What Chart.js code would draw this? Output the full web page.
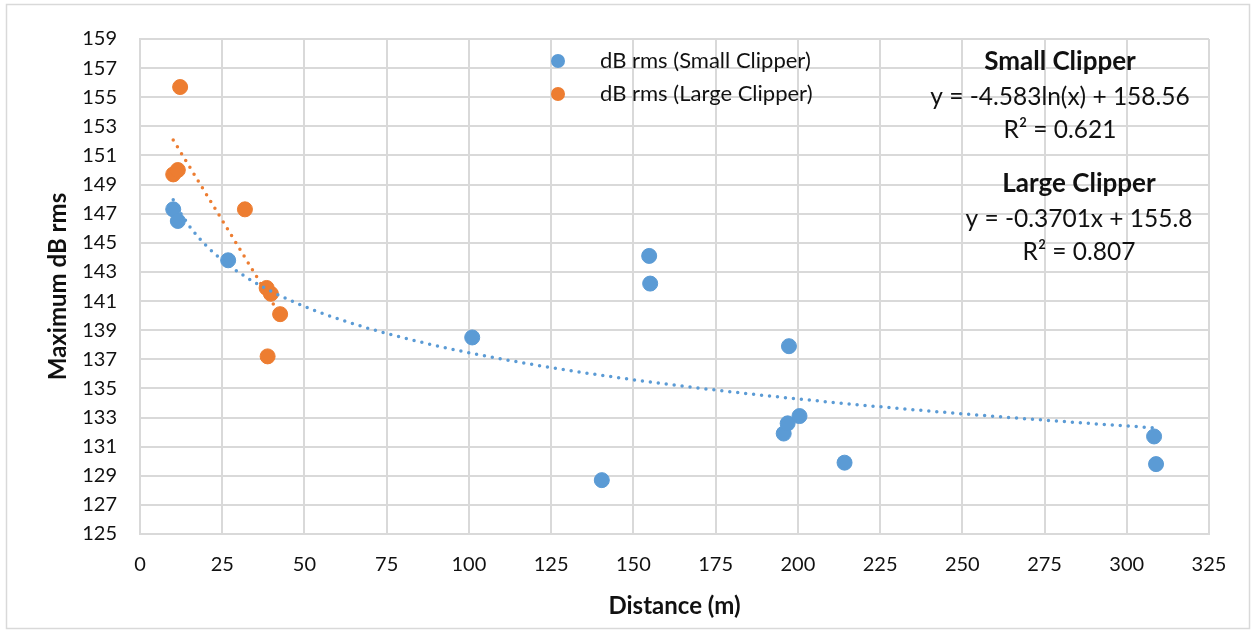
<!DOCTYPE html>
<html>
<head>
<meta charset="utf-8">
<script src="https://cdn.jsdelivr.net/npm/chart.js@4.4.1/dist/chart.umd.min.js"></script>
<style>
  html, body { margin: 0; padding: 0; background: #fff; }
  #wrap { position: relative; width: 1252px; height: 630px; }
</style>
</head>
<body>
<div id="wrap"><canvas id="chart" width="1252" height="630"></canvas></div>
<script>
// Measured distance (m) and peak level (dB rms) for each clipper
const smallX = [10.1, 11.5, 26.8, 101.0, 140.4, 154.8, 155.1, 195.7, 196.9, 197.3, 200.5, 214.2, 308.3, 308.9];
const smallY = [147.3, 146.5, 143.8, 138.5, 128.7, 144.1, 142.2, 131.9, 132.6, 137.9, 133.1, 129.9, 131.7, 129.8];
const largeX = [10.1, 11.5, 12.2, 31.9, 38.5, 38.8, 39.8, 42.6];
const largeY = [149.7, 150.0, 155.7, 147.3, 141.9, 137.2, 141.5, 140.1];

// Fitted trend coefficients (as printed on the chart)
const smallFit = { a: -4.583, b: 158.56, r2: '0.621' };   // y = a ln(x) + b
const largeFit = { m: -0.3701, c: 155.8, r2: '0.807' };   // y = m x + c

const seriesNames = ['dB rms (Small Clipper)', 'dB rms (Large Clipper)'];
const xTicks = { min: 0, max: 325, step: 25 };
const yTicks = { min: 125, max: 159, step: 2 };

const BLUE = '#5B9BD5';
const ORANGE = '#ED7D31';
const GRID = '#D9D9D9';
const TEXT = '#111';
const FONT = 'Lato, "Open Sans", sans-serif';

const toPoints = (xs, ys) => xs.map((x, i) => ({ x: x, y: ys[i] }));

// log trend sampled along the small clipper range
function logTrend() {
    const lo = Math.min(...smallX), hi = Math.max(...smallX);
    const pts = [];
    const n = 120;
    for (let i = 0; i <= n; i++) {
        const x = lo + (hi - lo) * i / n;
        pts.push({ x: x, y: smallFit.a * Math.log(x) + smallFit.b });
    }
    return pts;
}

function linTrend() {
    const lo = Math.min(...largeX), hi = Math.max(...largeX);
    return [lo, hi].map(x => ({ x: x, y: largeFit.m * x + largeFit.c }));
}

const frame = {
    id: 'frame',
    beforeDraw(chart) {
        const ctx = chart.ctx;
        ctx.save();
        ctx.fillStyle = '#fff';
        ctx.fillRect(0, 0, chart.width, chart.height);
        ctx.strokeStyle = GRID;
        ctx.lineWidth = 1.5;
        ctx.strokeRect(6.5, 4.5, 1243, 624);
        ctx.restore();
    },
    afterDraw(chart) {
        const ctx = chart.ctx;
        ctx.save();
        // legend inside the plot
        const colors = [BLUE, ORANGE];
        ctx.font = '22px ' + FONT;
        ctx.textBaseline = 'middle';
        ctx.textAlign = 'left';
        seriesNames.forEach((name, i) => {
            const y = 61 + i * 33;
            ctx.fillStyle = colors[i];
            ctx.beginPath();
            ctx.arc(558, y, 7, 0, Math.PI * 2);
            ctx.fill();
            ctx.fillStyle = TEXT;
            ctx.fillText(name, 600, y);
        });

        // trend equations
        ctx.textAlign = 'center';
        ctx.fillStyle = TEXT;
        const block = (x, y, title, eq, r2) => {
            ctx.font = 'bold 26px ' + FONT;
            ctx.fillText(title, x, y);
            ctx.font = '24.5px ' + FONT;
            ctx.fillText(eq, x, y + 35);
            ctx.fillText('R\u00B2 = ' + r2, x, y + 68);
        };
        block(1060, 62, 'Small Clipper', 'y = ' + smallFit.a + 'ln(x) + ' + smallFit.b, smallFit.r2);
        block(1079, 184, 'Large Clipper', 'y = ' + largeFit.m + 'x + ' + largeFit.c, largeFit.r2);
        ctx.restore();
    }
};

new Chart(document.getElementById('chart'), {
    type: 'scatter',
    data: {
        datasets: [
            {
                label: 'Log. (Small Clipper)',
                data: logTrend(),
                showLine: true,
                borderColor: BLUE,
                borderWidth: 3.5,
                borderDash: [0, 8],
                borderCapStyle: 'round',
                pointRadius: 0,
                order: 0
            },
            {
                label: 'Linear (Large Clipper)',
                data: linTrend(),
                showLine: true,
                borderColor: ORANGE,
                borderWidth: 3.5,
                borderDash: [0, 8],
                borderCapStyle: 'round',
                pointRadius: 0,
                order: 0
            },
            {
                label: seriesNames[0],
                data: toPoints(smallX, smallY),
                backgroundColor: BLUE,
                borderColor: BLUE,
                pointRadius: 7.5,
                order: 1
            },
            {
                label: seriesNames[1],
                data: toPoints(largeX, largeY),
                backgroundColor: ORANGE,
                borderColor: ORANGE,
                pointRadius: 7.5,
                order: 1
            }
        ]
    },
    options: {
        responsive: false,
        animation: false,
        layout: { padding: { left: 0, right: 43, top: 39, bottom: 0 } },
        plugins: {
            legend: { display: false },
            tooltip: { enabled: false }
        },
        scales: {
            x: {
                type: 'linear',
                min: xTicks.min,
                max: xTicks.max,
                ticks: {
                    stepSize: xTicks.step,
                    color: TEXT,
                    font: { family: FONT, size: 20 },
                    padding: 19,
                    maxRotation: 0
                },
                grid: { color: GRID, lineWidth: 2, drawTicks: false },
                border: { color: GRID, width: 2 },
                title: {
                    display: true,
                    text: 'Distance (m)',
                    color: TEXT,
                    font: { family: FONT, size: 24, weight: 'bold' },
                    padding: { top: 0, bottom: 9 }
                },
                afterFit(scale) { scale.height = 96; }
            },
            y: {
                type: 'linear',
                min: yTicks.min,
                max: yTicks.max,
                ticks: {
                    stepSize: yTicks.step,
                    color: TEXT,
                    font: { family: FONT, size: 20 },
                    padding: 23
                },
                grid: { color: GRID, lineWidth: 2, drawTicks: false },
                border: { color: GRID, width: 2 },
                title: {
                    display: true,
                    text: 'Maximum dB rms',
                    color: TEXT,
                    font: { family: FONT, size: 24, weight: 'bold' },
                    padding: { top: 44, bottom: 0 }
                },
                afterFit(scale) { scale.width = 140; }
            }
        }
    },
    plugins: [frame]
});
</script>
</body>
</html>
